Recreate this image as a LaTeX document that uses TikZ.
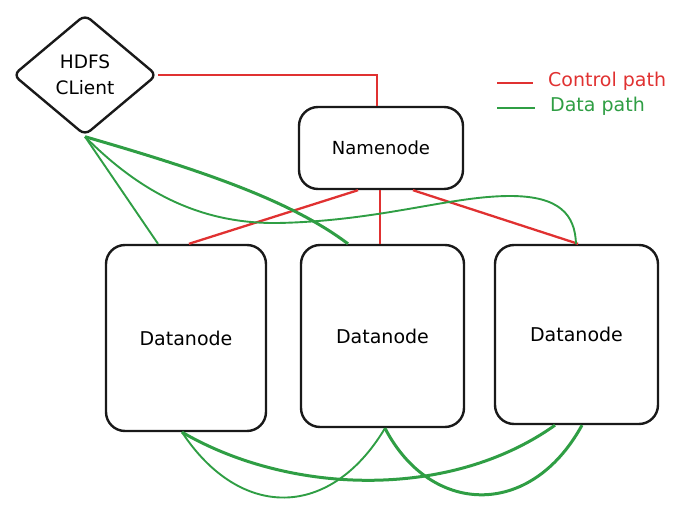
\documentclass[tikz,border=0pt]{standalone}
\usepackage{fontspec}
\setmainfont{DejaVu Sans}
\usetikzlibrary{shapes.geometric}
\definecolor{ctrlred}{HTML}{E03131}
\definecolor{datagreen}{HTML}{2F9E44}
\tikzset{
  box/.style={draw=black!90, line width=2.4pt, rounded corners=19pt, fill=white, font=\fontsize{19}{22}\selectfont},
  clientshape/.style={draw=black!90, line width=2.4pt, shape=diamond, rounded corners=7pt, minimum width=144pt, minimum height=121pt, inner sep=0pt, align=center, font=\fontsize{18.5}{26}\selectfont},
  ctrl/.style={draw=ctrlred, line width=2.3pt},
  datathick/.style={draw=datagreen, line width=3pt},
  datathin/.style={draw=datagreen, line width=1.9pt},
  legendtext/.style={anchor=west, font=\fontsize{19}{22}\selectfont, inner sep=0pt},
}
\begin{document}
\begin{tikzpicture}[x=1pt,y=-1pt]
\useasboundingbox (0,0) rectangle (681,508);
% nodes
\node[clientshape] (client) at (85,75) {HDFS\\CLient};
\node[box, minimum width=164pt, minimum height=82pt, font=\fontsize{18}{21}\selectfont] (nn) at (381,148) {Namenode};
\node[box, minimum width=160pt, minimum height=186pt] (dn1) at (186,338) {Datanode};
\node[box, minimum width=163pt, minimum height=182pt] (dn2) at (382.5,336) {Datanode};
\node[box, minimum width=163pt, minimum height=179pt] (dn3) at (576.5,334.5) {Datanode};
% control path
\draw[ctrl] (client.east) -| ([xshift=-4pt]nn.north);
\draw[ctrl] ([xshift=-23pt]nn.south) -- ([xshift=3pt]dn1.north);
\draw[ctrl] ([xshift=-1pt]nn.south) -- ([xshift=-2.5pt]dn2.north);
\draw[ctrl] ([xshift=32pt]nn.south) -- ([xshift=1.5pt]dn3.north);
% data path (top)
\draw[datathin] (client.south) -- ([xshift=-28pt]dn1.north);
\draw[datathick] (client.south) .. controls (200,170) and (290,200) .. ([xshift=-34.5pt]dn2.north);
\draw[datathin] (client.south) .. controls (140,192) and (200,224) .. (278,223)
  .. controls (380,221) and (450,196) .. (510,196)
  .. controls (560,196) and (575,215) .. ([xshift=-0.5pt]dn3.north);
% data path (bottom)
\draw[datathick] ([xshift=-4pt]dn1.south) .. controls (290,495) and (450,500) .. ([xshift=-21.5pt]dn3.south);
\draw[datathin] ([xshift=-4pt]dn1.south) .. controls (240,520) and (330,520) .. ([xshift=2.5pt]dn2.south);
\draw[datathick] ([xshift=2.5pt]dn2.south) .. controls (430,515) and (530,520) .. ([xshift=5.5pt]dn3.south);
% legend
\coordinate (lr1) at (497,83);
\coordinate (lr2) at (533,83);
\coordinate (lg1) at (497,108);
\coordinate (lg2) at (535,108);
\draw[ctrl] (lr1) -- (lr2);
\draw[draw=datagreen, line width=2.3pt] (lg1) -- (lg2);
\node[legendtext, text=ctrlred] (lctrl) at (548,81) {Control path};
\node[legendtext, text=datagreen] (ldata) at (550,106) {Data path};
\end{tikzpicture}
\end{document}
